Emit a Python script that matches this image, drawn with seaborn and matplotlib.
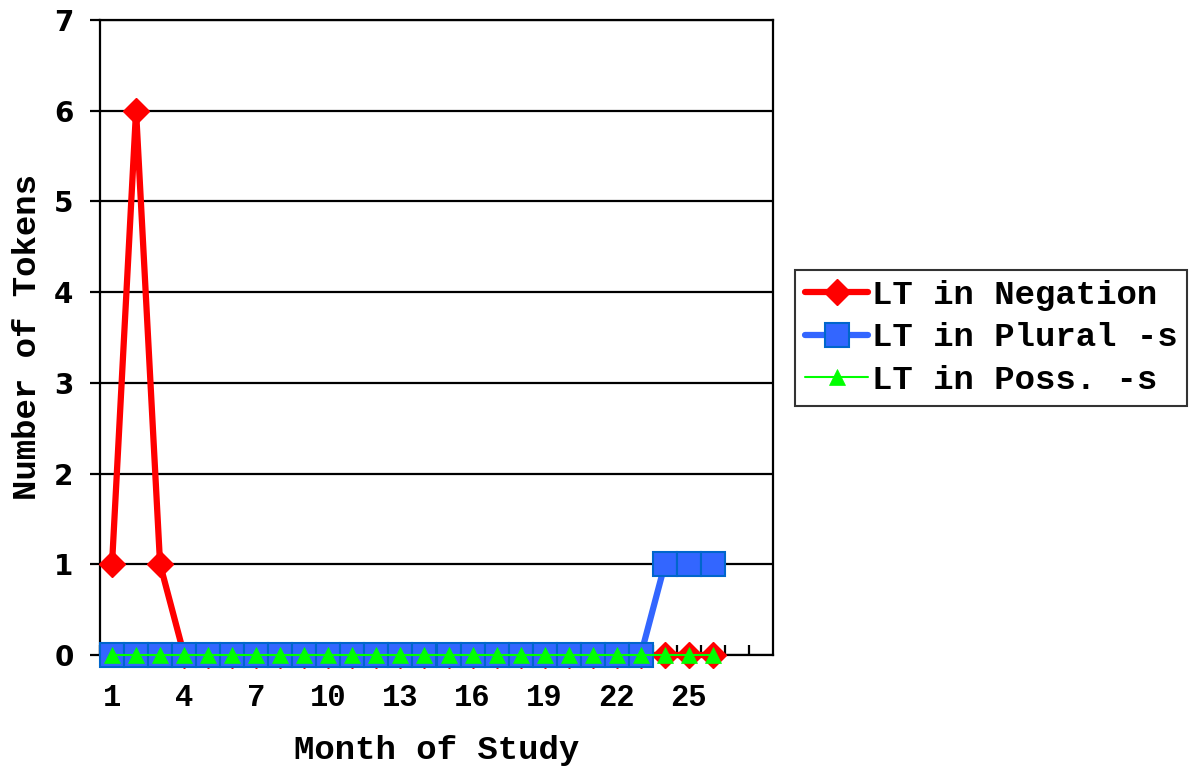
import matplotlib
matplotlib.use("Agg")
import matplotlib.pyplot as plt
import seaborn as sns
import pandas as pd
import numpy as np

months = list(range(1, 27))
negation = [1, 6, 1] + [0] * 23
plural = [0] * 23 + [1, 1, 1]
possessive = [0] * 26
xtick_labels = ["1", "4", "7", "10", "13", "16", "19", "22", "25"]
xtick_pos = [1, 4, 7, 10, 13, 16, 19, 22, 25]
series_names = ["LT in Negation", "LT in Plural -s", "LT in Poss. -s"]

sns.set_theme(style="white")
plt.rcParams['font.family'] = ['Liberation Mono', 'DejaVu Sans']
for k in ['text.color', 'axes.labelcolor', 'xtick.color', 'ytick.color']:
    plt.rcParams[k] = 'black'

fig = plt.figure(figsize=(11.94, 7.66), dpi=100)
ax = fig.add_axes([100/1194, 1-655/766, (773-100)/1194, (655-20)/766])

mono = dict(family='Liberation Mono', weight='bold')

sns.lineplot(x=months, y=negation, ax=ax, color='#FF0000', linewidth=4.5,
             marker='D', markersize=13, markeredgecolor='#FF0000', markeredgewidth=1,
             label=series_names[0], zorder=3, clip_on=False)
sns.lineplot(x=months, y=plural, ax=ax, color='#3366FF', linewidth=4.5,
             marker='s', markersize=17, markerfacecolor='#3366FF', markeredgecolor='#0066CC',
             markeredgewidth=1.5, label=series_names[1], zorder=4, clip_on=False)
sns.lineplot(x=months, y=possessive, ax=ax, color='#00FF00', linewidth=1.5,
             marker='^', markersize=11, markeredgecolor='#00FF00', markeredgewidth=0.5,
             label=series_names[2], zorder=5, clip_on=False)

ax.set_xlim(0.5, 28.5)
ax.set_ylim(0, 7)
ax.set_yticks(range(0, 8))
ax.yaxis.grid(True, color='black', linewidth=1.6)
ax.set_axisbelow(True)
ax.set_xticks(xtick_pos)
ax.set_xticklabels(xtick_labels, fontsize=22, **mono)
ax.set_xticks(np.arange(0.5, 28.5, 1.0), minor=True)
ax.tick_params(axis='x', which='major', length=0, pad=20)
ax.tick_params(axis='x', which='minor', direction='in', length=7, width=1.6, color='black', bottom=True)
ax.tick_params(axis='y', which='major', direction='out', length=7, width=1.6, color='black', left=True, pad=12)
for lab in ax.get_yticklabels():
    lab.set_fontfamily('DejaVu Sans')
    lab.set_fontweight('bold')
    lab.set_fontsize(20)

for side in ['left', 'bottom', 'right', 'top']:
    ax.spines[side].set_visible(True)
    ax.spines[side].set_color('black')
    ax.spines[side].set_linewidth(1.6)

ax.set_xlabel("Month of Study", fontsize=24.5, labelpad=16, **mono)
ax.set_ylabel("Number of Tokens", fontsize=24.5, labelpad=8, **mono)

leg = ax.legend(loc='upper left', bbox_to_anchor=(795/1194, 1-270/766),
                bbox_transform=fig.transFigure, prop=dict(family='Liberation Mono', weight='bold', size=24.5),
                frameon=True, fancybox=False, edgecolor='black', handlelength=1.85,
                handletextpad=0.1, borderpad=0.3, labelspacing=0.33, borderaxespad=0)
leg.get_frame().set_linewidth(1.5)

fig.savefig("out.png", dpi=100)
